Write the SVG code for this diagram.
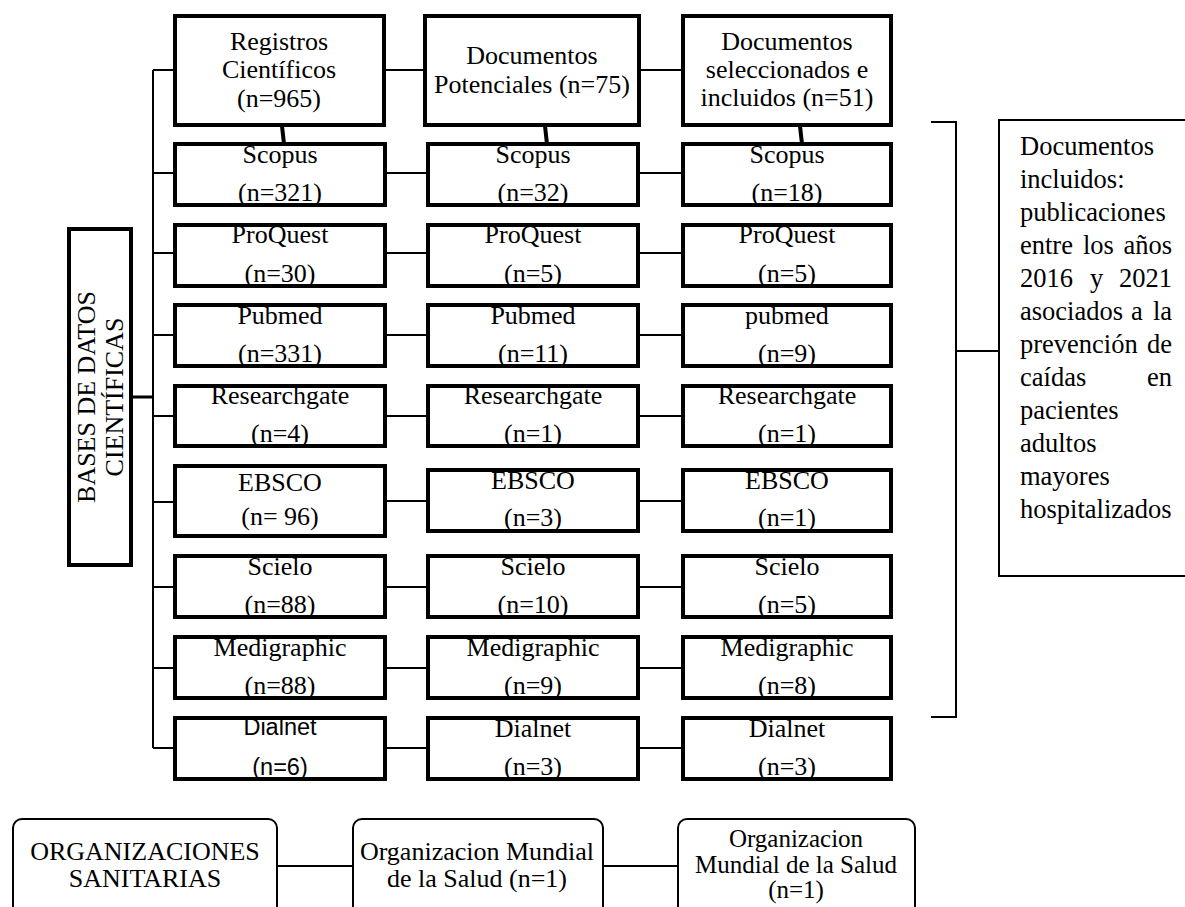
<svg xmlns="http://www.w3.org/2000/svg" width="1185" height="907" viewBox="0 0 1185 907">
<style>
.bx{fill:#fff;stroke:#000;stroke-width:4}
.rb{fill:#fff;stroke:#000;stroke-width:2}
.ln{fill:none;stroke:#000;stroke-width:2}
.tk{fill:none;stroke:#000;stroke-width:4}
text{font-family:"Liberation Serif","Times New Roman",serif;font-size:26px;fill:#000}
.c{text-anchor:middle}
.e{text-anchor:end}
.sans{font-family:"Liberation Sans",Arial,sans-serif;font-size:23.5px}
.rt{font-size:26.5px}
.sm{font-size:25px}
</style>
<rect width="1185" height="907" fill="#fff"/>
<g id="connectors">
<path class="ln" d="M153 70V748"/>
<path class="ln" d="M153 70H175M153 173H175M153 253H175M153 335H175M153 416H175M153 502H175M153 587H175M153 668H175M153 748H175"/>
<path class="ln" d="M385 70H425M641 70H683"/>
<path class="ln" d="M387 173H428M640 173H683M387 253H428M640 253H683M387 335H428M640 335H683M387 416H428M640 416H683M387 501H428M640 501H683M387 587H428M640 587H683M387 668H428M640 668H683M387 748H428M640 748H683"/>
<path class="ln" d="M133 397H153" style="stroke-width:3"/>
<path class="tk" d="M282 126L284 144M545 126L547 144M800 126L802 144"/>
<path class="ln" d="M931 122H956V717H931M956 351H999"/>
<path class="ln" d="M278 866H352M604 866H677"/>
</g>
<g id="bases">
<rect class="bx" x="69" y="229" width="62" height="336"/>
<text class="c" transform="translate(95,397) rotate(-90)">BASES DE DATOS</text>
<text class="c" transform="translate(123,397) rotate(-90)">CIENTÍFICAS</text>
</g>
<g id="h1"><rect class="bx" x="175" y="16" width="209" height="109"/>
<text class="c" x="279" y="50">Registros</text><text class="c" x="279" y="78">Científicos</text><text class="c" x="279" y="107">(n=965)</text></g>
<g id="h2"><rect class="bx" x="425" y="16" width="214" height="109"/>
<text class="c" x="532" y="64">Documentos</text><text class="c" x="532" y="93">Potenciales (n=75)</text></g>
<g id="h3"><rect class="bx" x="683" y="16" width="208" height="109"/>
<text class="c" x="787" y="50">Documentos</text><text class="c" x="787" y="78">seleccionados e</text><text class="c" x="787" y="106">incluidos (n=51)</text></g>

<g id="scopus1"><rect class="bx" x="175" y="144" width="210" height="61"/><text class="c" x="280" y="163">Scopus</text><text class="c" x="280" y="201">(n=321)</text></g>
<g id="scopus2"><rect class="bx" x="428" y="144" width="210" height="61"/><text class="c" x="533" y="163">Scopus</text><text class="c" x="533" y="201">(n=32)</text></g>
<g id="scopus3"><rect class="bx" x="683" y="144" width="208" height="61"/><text class="c" x="787" y="163">Scopus</text><text class="c" x="787" y="201">(n=18)</text></g>

<g id="proquest1"><rect class="bx" x="175" y="225" width="210" height="61"/><text class="c" x="280" y="243">ProQuest</text><text class="c" x="280" y="282">(n=30)</text></g>
<g id="proquest2"><rect class="bx" x="428" y="225" width="210" height="61"/><text class="c" x="533" y="243">ProQuest</text><text class="c" x="533" y="282">(n=5)</text></g>
<g id="proquest3"><rect class="bx" x="683" y="225" width="208" height="61"/><text class="c" x="787" y="243">ProQuest</text><text class="c" x="787" y="282">(n=5)</text></g>

<g id="pubmed1"><rect class="bx" x="175" y="305" width="210" height="61"/><text class="c" x="280" y="324">Pubmed</text><text class="c" x="280" y="362">(n=331)</text></g>
<g id="pubmed2"><rect class="bx" x="428" y="305" width="210" height="61"/><text class="c" x="533" y="324">Pubmed</text><text class="c" x="533" y="362">(n=11)</text></g>
<g id="pubmed3"><rect class="bx" x="683" y="305" width="208" height="61"/><text class="c" x="787" y="324">pubmed</text><text class="c" x="787" y="362">(n=9)</text></g>

<g id="rg1"><rect class="bx" x="175" y="386" width="210" height="60"/><text class="c" x="280" y="404">Researchgate</text><text class="c" x="280" y="442">(n=4)</text></g>
<g id="rg2"><rect class="bx" x="428" y="386" width="210" height="60"/><text class="c" x="533" y="404">Researchgate</text><text class="c" x="533" y="442">(n=1)</text></g>
<g id="rg3"><rect class="bx" x="683" y="386" width="208" height="60"/><text class="c" x="787" y="404">Researchgate</text><text class="c" x="787" y="442">(n=1)</text></g>

<g id="ebsco1"><rect class="bx" x="175" y="466" width="210" height="70"/><text class="c" x="280" y="491">EBSCO</text><text class="c" x="280" y="525">(n= 96)</text></g>
<g id="ebsco2"><rect class="bx" x="428" y="470" width="210" height="61"/><text class="c" x="533" y="489">EBSCO</text><text class="c" x="533" y="526">(n=3)</text></g>
<g id="ebsco3"><rect class="bx" x="683" y="470" width="208" height="61"/><text class="c" x="787" y="489">EBSCO</text><text class="c" x="787" y="526">(n=1)</text></g>

<g id="scielo1"><rect class="bx" x="175" y="556" width="210" height="61"/><text class="c" x="280" y="575">Scielo</text><text class="c" x="280" y="613">(n=88)</text></g>
<g id="scielo2"><rect class="bx" x="428" y="556" width="210" height="61"/><text class="c" x="533" y="575">Scielo</text><text class="c" x="533" y="613">(n=10)</text></g>
<g id="scielo3"><rect class="bx" x="683" y="556" width="208" height="61"/><text class="c" x="787" y="575">Scielo</text><text class="c" x="787" y="613">(n=5)</text></g>

<g id="medi1"><rect class="bx" x="175" y="637" width="210" height="61"/><text class="c" x="280" y="656">Medigraphic</text><text class="c" x="280" y="694">(n=88)</text></g>
<g id="medi2"><rect class="bx" x="428" y="637" width="210" height="61"/><text class="c" x="533" y="656">Medigraphic</text><text class="c" x="533" y="694">(n=9)</text></g>
<g id="medi3"><rect class="bx" x="683" y="637" width="208" height="61"/><text class="c" x="787" y="656">Medigraphic</text><text class="c" x="787" y="694">(n=8)</text></g>

<g id="dialnet1"><rect class="bx" x="175" y="718" width="210" height="61"/><text class="c sans" x="280" y="735">Dialnet</text><text class="c sans" x="280" y="775">(n=6)</text></g>
<g id="dialnet2"><rect class="bx" x="428" y="718" width="210" height="61"/><text class="c" x="533" y="737">Dialnet</text><text class="c" x="533" y="775">(n=3)</text></g>
<g id="dialnet3"><rect class="bx" x="683" y="718" width="208" height="61"/><text class="c" x="787" y="737">Dialnet</text><text class="c" x="787" y="775">(n=3)</text></g>

<g id="included">
<rect class="rb" x="999" y="120" width="200" height="456"/>
<text class="rt" x="1020" y="155">Documentos</text>
<text class="rt" x="1020" y="188">incluidos:</text>
<text class="rt" x="1020" y="221">publicaciones</text>
<text class="rt" y="254"><tspan x="1020">entre</tspan><tspan x="1083">los</tspan><tspan x="1172" text-anchor="end">años</tspan></text>
<text class="rt" y="287"><tspan x="1020">2016</tspan><tspan x="1090">y</tspan><tspan x="1172" text-anchor="end">2021</tspan></text>
<text class="rt" y="320"><tspan x="1020">asociados</tspan><tspan x="1131">a</tspan><tspan x="1172" text-anchor="end">la</tspan></text>
<text class="rt" y="353"><tspan x="1020">prevención</tspan><tspan x="1172" text-anchor="end">de</tspan></text>
<text class="rt" y="386"><tspan x="1020">caídas</tspan><tspan x="1172" text-anchor="end">en</tspan></text>
<text class="rt" x="1020" y="419">pacientes</text>
<text class="rt" x="1020" y="452">adultos</text>
<text class="rt" x="1020" y="485">mayores</text>
<text class="rt" x="1020" y="518">hospitalizados</text>
</g>

<g id="org1"><rect class="rb" x="13" y="819" width="264" height="120" rx="9"/><text class="c" x="145" y="860">ORGANIZACIONES</text><text class="c" x="145" y="887">SANITARIAS</text></g>
<g id="org2"><rect class="rb" x="353" y="819" width="250" height="120" rx="9"/><text class="c" x="477" y="860">Organizacion Mundial</text><text class="c" x="477" y="887">de la Salud (n=1)</text></g>
<g id="org3"><rect class="rb" x="678" y="819" width="237" height="120" rx="9"/><text class="c sm" x="796" y="847">Organizacion</text><text class="c sm" x="796" y="873">Mundial de la Salud</text><text class="c sm" x="796" y="898">(n=1)</text></g>
</svg>
